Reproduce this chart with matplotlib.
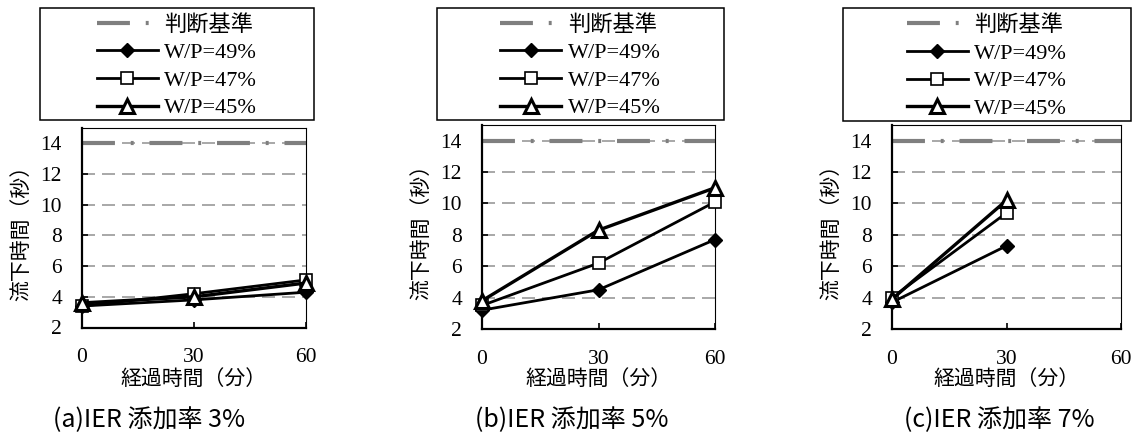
import matplotlib
matplotlib.use("Agg")
import matplotlib.pyplot as plt
from matplotlib.patches import Rectangle

# elapsed time (min)
minutes = [0, 30, 60]
minutes_c = [0, 30]

# flow-down time (s) for each IER dosage
a_wp49 = [3.4, 3.8, 4.3]
a_wp47 = [3.4, 4.2, 5.1]
a_wp45 = [3.6, 4.0, 4.9]

b_wp49 = [3.2, 4.5, 7.7]
b_wp47 = [3.5, 6.2, 10.1]
b_wp45 = [3.8, 8.3, 11.0]

c_wp49 = [3.7, 7.3]
c_wp47 = [4.0, 9.4]
c_wp45 = [3.9, 10.2]

criterion = 14
series_labels = ["W/P=49%", "W/P=47%", "W/P=45%"]
criterion_label = "判断基準"
captions = ["(a)IER 添加率 3%", "(b)IER 添加率 5%", "(c)IER 添加率 7%"]
xlabel = "経過時間（分）"
ylabel = "流下時間（秒）"

CJK = "Noto Sans CJK JP"
SERIF = "Liberation Serif"
GRAY = "#7f7f7f"
plt.rcParams["font.family"] = [SERIF, CJK]

W, H = 1139, 437
fig = plt.figure(figsize=(W / 100, H / 100), dpi=100)


def px_rect(l, t, r, b):
    return [l / W, 1 - b / H, (r - l) / W, (b - t) / H]


# pixel boxes: axes (l, t, r, b), legend (l, t, r, b), caption centre
axes_px = [(82, 128, 306, 327.5), (482, 125, 715, 329), (892, 125, 1121, 329)]
legend_px = [(40, 8, 314, 120), (437, 8, 724, 120), (843, 8, 1131, 121)]
caption_px = [(149, 420), (572, 420), (999, 420)]

panels = [
    (minutes, a_wp49, a_wp47, a_wp45),
    (minutes, b_wp49, b_wp47, b_wp45),
    (minutes_c, c_wp49, c_wp47, c_wp45),
]

styles = [
    dict(marker="D", ms=7, mfc="black", mec="black", mew=1, lw=2.0),
    dict(marker="s", ms=9, mfc="white", mec="black", mew=1.2, lw=2.0),
    dict(marker="^", ms=10, mfc="white", mec="black", mew=2.2, lw=2.4),
]
ref_dashes = (7.9, 3.8, 0.7, 3.8)

for i, (x, s49, s47, s45) in enumerate(panels):
    l, t, r, b = axes_px[i]
    ax = fig.add_axes(px_rect(l, t, r, b))
    ax.set_xlim(0, 60)
    ax.set_ylim(2, 15)
    ax.set_xticks([0, 30, 60])
    ax.set_yticks(range(2, 15, 2))
    ax.grid(axis="y", color="#9a9a9a", lw=1.2, linestyle=(0, (7.8, 4.2)), zorder=0)
    ax.set_axisbelow(True)

    ax.axhline(criterion, color=GRAY, lw=3, dashes=ref_dashes, zorder=2,
               dash_capstyle="butt", label=criterion_label)
    for ys, st, lab in zip((s49, s47, s45), styles, series_labels):
        ax.plot(x, ys, color="black", clip_on=False, zorder=3, label=lab, **st)

    for side in ("left", "bottom"):
        ax.spines[side].set_linewidth(1.6)
    for side in ("top", "right"):
        ax.spines[side].set_linewidth(0.8)

    ax.tick_params(axis="both", direction="in", length=4.5, width=1.2,
                   labelsize=15.5)
    ax.tick_params(axis="y", pad=14.4)
    ax.tick_params(axis="x", pad=14.8)

    hpx = b - t
    wpx = r - l
    ax.set_xlabel(xlabel, fontfamily=CJK, fontsize=15, va="center")
    ax.xaxis.set_label_coords(0.5, -(379 - b) / hpx)
    ax.set_ylabel(ylabel, fontfamily=CJK, fontsize=15, va="center")
    ax.yaxis.set_label_coords(-61 / wpx, 0.5)

    # legend box above each plot
    ll, lt, lr, lb = legend_px[i]
    fig.patches.append(Rectangle((ll / W, 1 - lb / H), (lr - ll) / W, (lb - lt) / H,
                                 transform=fig.transFigure, fill=False,
                                 edgecolor="black", lw=1.1))
    handles, labels = ax.get_legend_handles_labels()
    ax.legend(handles, labels, loc="center",
              bbox_to_anchor=((ll + lr) / 2 / W, 1 - ((lt + lb) / 2 + 2.5) / H),
              bbox_transform=fig.transFigure, frameon=False,
              numpoints=1, handlelength=2.75, handletextpad=0.3,
              labelspacing=0.32, borderpad=0,
              prop={"family": [SERIF, CJK], "size": 16})

    cx, cy = caption_px[i]
    fig.text(cx / W, 1 - cy / H, captions[i], fontfamily=CJK, fontsize=18,
             ha="center", va="center")

fig.savefig("out.png", dpi=100)
